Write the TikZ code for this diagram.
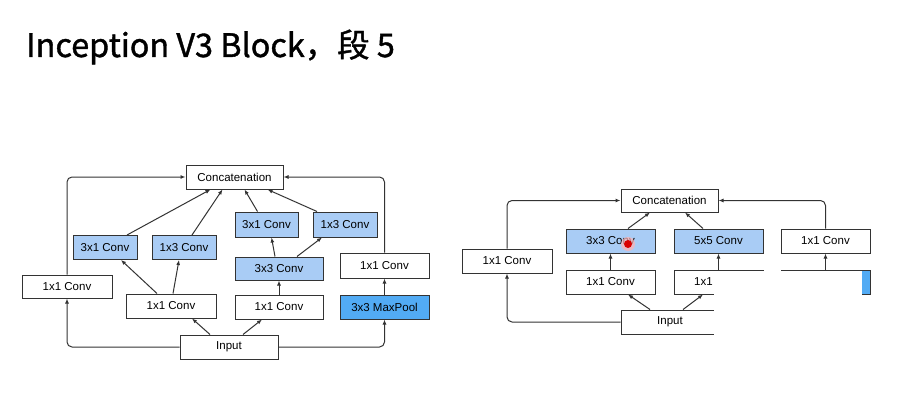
\documentclass[tikz,border=0pt]{standalone}
\usepackage{fontspec}
\usepackage{xcolor}
\usepackage{tikz}
\usetikzlibrary{arrows.meta}
\newfontfamily\boxfont{Liberation Sans}
\newfontfamily\titlefont[FakeBold=1.2]{Noto Sans CJK SC}
\definecolor{convblue}{HTML}{A9CCF5}
\definecolor{poolblue}{HTML}{52ABF4}
\definecolor{edge}{HTML}{333333}

\begin{document}
\begin{tikzpicture}[x=1pt,y=-1pt,
    box/.style={draw=edge, line width=1pt, fill=white, minimum height=24pt,
                inner sep=0pt, font=\boxfont\fontsize{11.5}{13}\selectfont},
    conv/.style={box, fill=convblue},
    pool/.style={box, fill=poolblue},
    arr/.style={draw=edge, line width=1pt, -{Latex[length=5pt,width=4pt]}},
    loop/.style={arr, rounded corners=5pt}]
                % Page
                \fill[white] (0,0) rectangle (905,412);
                \useasboundingbox (0,0) rectangle (905,412);
                % Title
                \node[anchor=west, inner sep=0pt, font=\titlefont\fontsize{32.4}{36}\selectfont] (title) at (26,47) {Inception V3 Block，段 5};

                % Left block
                \node[box, minimum width=97pt] (concatL) at (234.5,177) {Concatenation};
                \node[conv, minimum width=64pt] (c31L) at (105,247.5) {3x1 Conv};
                \node[conv, minimum width=64pt] (c13L) at (184,247.5) {1x3 Conv};
                \node[box, minimum width=90pt, minimum height=23pt] (c11a) at (67,286.5) {1x1 Conv};
                \node[box, minimum width=90pt] (c11b) at (171,306) {1x1 Conv};
                \node[box, minimum width=98pt] (inL) at (229,347) {Input};
                \node[conv, minimum width=63pt, minimum height=25pt] (c31R) at (266.5,224.5) {3x1 Conv};
                \node[conv, minimum width=64pt, minimum height=25pt] (c13R) at (345,224.5) {1x3 Conv};
                \node[conv, minimum width=88pt, minimum height=23pt] (c33) at (279,268.5) {3x3 Conv};
                \node[box, minimum width=88pt] (c11c) at (279,307) {1x1 Conv};
                \node[box, minimum width=89pt, minimum height=25pt] (c11d) at (384.5,265.5) {1x1 Conv};
                \node[pool, minimum width=89pt] (poolL) at (384.5,307) {3x3 MaxPool};

                % Left arrows
                \draw[arr] ([xshift=-19pt]inL.north) -- ([xshift=21pt]c11b.south);
                \draw[arr] ([xshift=14pt]inL.north) -- ([xshift=-17pt]c11c.south);
                \draw[arr] ([xshift=-14pt]c11b.north) -- ([xshift=16pt]c31L.south);
                \draw[arr] ([xshift=2pt]c11b.north) -- ([xshift=-5pt]c13L.south);
                \draw[arr] ([xshift=22pt]c31L.north) -- ([xshift=-24pt]concatL.south);
                \draw[arr] ([xshift=8pt]c13L.north) -- ([xshift=-12pt]concatL.south);
                \draw[arr] ([xshift=-4pt]c33.north) -- ([xshift=5pt]c31R.south);
                \draw[arr] ([xshift=18pt]c33.north) -- ([xshift=-23pt]c13R.south);
                \draw[arr] ([xshift=-9pt]c31R.north) -- ([xshift=10pt]concatL.south);
                \draw[arr] ([xshift=-28pt]c13R.north) -- ([xshift=33pt]concatL.south);
                \foreach \a/\b in {c11c/c33, poolL/c11d}
                    \draw[arr] (\a.north) -- (\b.south);
                \draw[loop] (inL.west) -| (c11a.south);
                \draw[loop] (c11a.north) |- (concatL.west);
                \draw[loop] (inL.east) -| (poolL.south);
                \draw[loop] (c11d.north) |- (concatL.east);

                % Right block
                \node[box, minimum width=97pt, minimum height=23pt] (concatR) at (669.5,200.5) {Concatenation};
                \node[box, minimum width=90pt] (r11a) at (507,261) {1x1 Conv};
                \node[conv, minimum width=89pt] (r33) at (610.5,241) {3x3 Conv};
                \node[box, minimum width=89pt] (r11b) at (610.5,282) {1x1 Conv};
                \node[box, minimum width=98pt] (inR) at (670,322) {Input};
                \node[conv, minimum width=89pt] (r55) at (718.5,241) {5x5 Conv};
                \node[box, minimum width=89pt] (r11c) at (718.5,282) {1x1 Conv};
                \node[box, minimum width=89pt] (r11d) at (825.5,241) {1x1 Conv};
                \node[pool, minimum width=89pt] (poolR) at (825.5,282) {};

                % Right arrows
                \draw[arr] ([xshift=-20pt]inR.north) -- ([xshift=17.5pt]r11b.south);
                \draw[arr] ([xshift=13pt]inR.north) -- ([xshift=-15.5pt]r11c.south);
                \draw[arr] ([xshift=17.5pt]r33.north) -- ([xshift=-19.5pt]concatR.south);
                \draw[arr] ([xshift=-15.5pt]r55.north) -- ([xshift=15.5pt]concatR.south);
                \foreach \a/\b in {r11b/r33, r11c/r55, poolR/r11d}
                    \draw[arr] (\a.north) -- (\b.south);
                \draw[loop] (inR.west) -| (r11a.south);
                \draw[loop] (r11a.north) |- (concatR.west);
                \draw[loop] (inR.east) -| (poolR.south);
                \draw[loop] (r11d.north) |- (concatR.east);

                % Covered part of the frame
                \fill[white] (714,271) rectangle (861.5,412);
                % Pointer
                \fill[red!30, opacity=0.7] (628,244) circle (7pt);
                \fill[red!85!black] (628,244) circle (4pt);
\end{tikzpicture}
\end{document}
